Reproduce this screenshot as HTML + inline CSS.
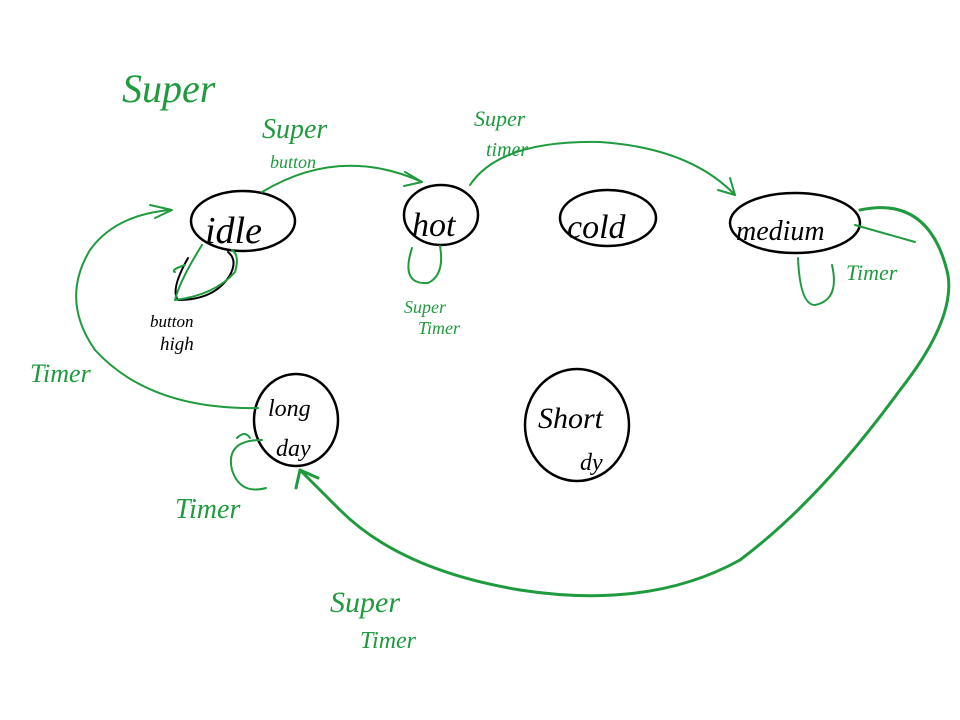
<!DOCTYPE html>
<html><head><style>
html,body{margin:0;padding:0;background:#fff;}
svg{display:block}
.g{fill:none;stroke:#1f9a3e;stroke-width:2;stroke-linecap:round;stroke-linejoin:round}
.gt{fill:#1f9a3e;font-family:"Liberation Serif",serif;font-style:italic}
.k{fill:none;stroke:#000;stroke-width:2.5;stroke-linecap:round}
.kt{fill:#000;font-family:"Liberation Serif",serif;font-style:italic}
</style></head><body>
<svg width="960" height="720" viewBox="0 0 960 720" xmlns="http://www.w3.org/2000/svg">
<rect width="960" height="720" fill="#fff"/>
<text x="122" y="102" class="gt" font-size="40">Super</text>

<!-- nodes -->
<ellipse cx="243" cy="221" rx="52" ry="30" class="k"/>
<text x="205" y="243" class="kt" font-size="38">idle</text>
<ellipse cx="441" cy="215" rx="37" ry="30" class="k"/>
<text x="412" y="236" class="kt" font-size="34">hot</text>
<ellipse cx="608" cy="218" rx="48" ry="28" class="k"/>
<text x="567" y="238" class="kt" font-size="34">cold</text>
<ellipse cx="795" cy="223" rx="65" ry="30" class="k"/>
<text x="736" y="240" class="kt" font-size="28">medium</text>
<ellipse cx="296" cy="420" rx="42" ry="46" class="k"/>
<text x="268" y="416" class="kt" font-size="24">long</text>
<text x="276" y="456" class="kt" font-size="24">day</text>
<ellipse cx="577" cy="425" rx="52" ry="56" class="k"/>
<text x="538" y="428" class="kt" font-size="30">Short</text>
<text x="580" y="470" class="kt" font-size="24">dy</text>

<!-- idle -> hot -->
<path class="g" d="M262 192 Q340 145 422 182"/>
<path class="g" d="M405 172 L422 182 L404 186"/>
<text x="262" y="138" class="gt" font-size="28">Super</text>
<text x="270" y="168" class="gt" font-size="18">button</text>

<!-- hot -> medium -->
<path class="g" d="M470 185 Q500 140 600 142 Q690 148 735 195"/>
<path class="g" d="M718 190 L735 195 L730 178"/>
<text x="474" y="126" class="gt" font-size="22">Super</text>
<text x="486" y="156" class="gt" font-size="20">timer</text>

<!-- hot self loop -->
<path class="g" d="M412 248 Q400 285 428 283 Q445 275 440 246"/>
<text x="404" y="313" class="gt" font-size="18">Super</text>
<text x="418" y="334" class="gt" font-size="18">Timer</text>

<!-- idle self loops -->
<path class="k" style="stroke-width:2" d="M188 258 Q170 290 178 300 Q215 300 230 275 Q238 260 228 252"/>
<path class="g" d="M202 245 Q180 280 175 300 Q215 295 235 272 Q240 255 232 250"/>
<path class="g" d="M185 265 Q170 270 175 272"/>
<text x="150" y="327" class="kt" font-size="17">button</text>
<text x="160" y="350" class="kt" font-size="19">high</text>

<!-- medium self loop -->
<path class="g" d="M798 258 Q800 305 815 305 Q840 300 832 265"/>
<path class="g" d="M855 225 L915 242"/>
<text x="846" y="280" class="gt" font-size="22">Timer</text>

<!-- long day -> idle -->
<path class="g" d="M258 408 Q150 410 95 350 Q60 300 90 250 Q115 215 170 210"/>
<path class="g" d="M150 205 L172 210 L155 218"/>
<text x="30" y="382" class="gt" font-size="26">Timer</text>

<!-- long day self loop -->
<path class="g" d="M262 440 Q225 440 232 470 Q240 495 266 488"/>
<path class="g" d="M237 438 Q245 430 250 438"/>
<text x="175" y="518" class="gt" font-size="28">Timer</text>

<!-- medium -> long day -->
<path class="g" style="stroke-width:3" d="M860 210 Q930 195 948 275 Q955 320 900 390 Q820 500 740 560 Q650 610 520 590 Q400 570 340 510 Q310 480 300 470"/>
<path class="g" style="stroke-width:3" d="M296 488 L300 470 L318 478"/>
<text x="330" y="612" class="gt" font-size="30">Super</text>
<text x="360" y="648" class="gt" font-size="24">Timer</text>
</svg>
</body></html>
